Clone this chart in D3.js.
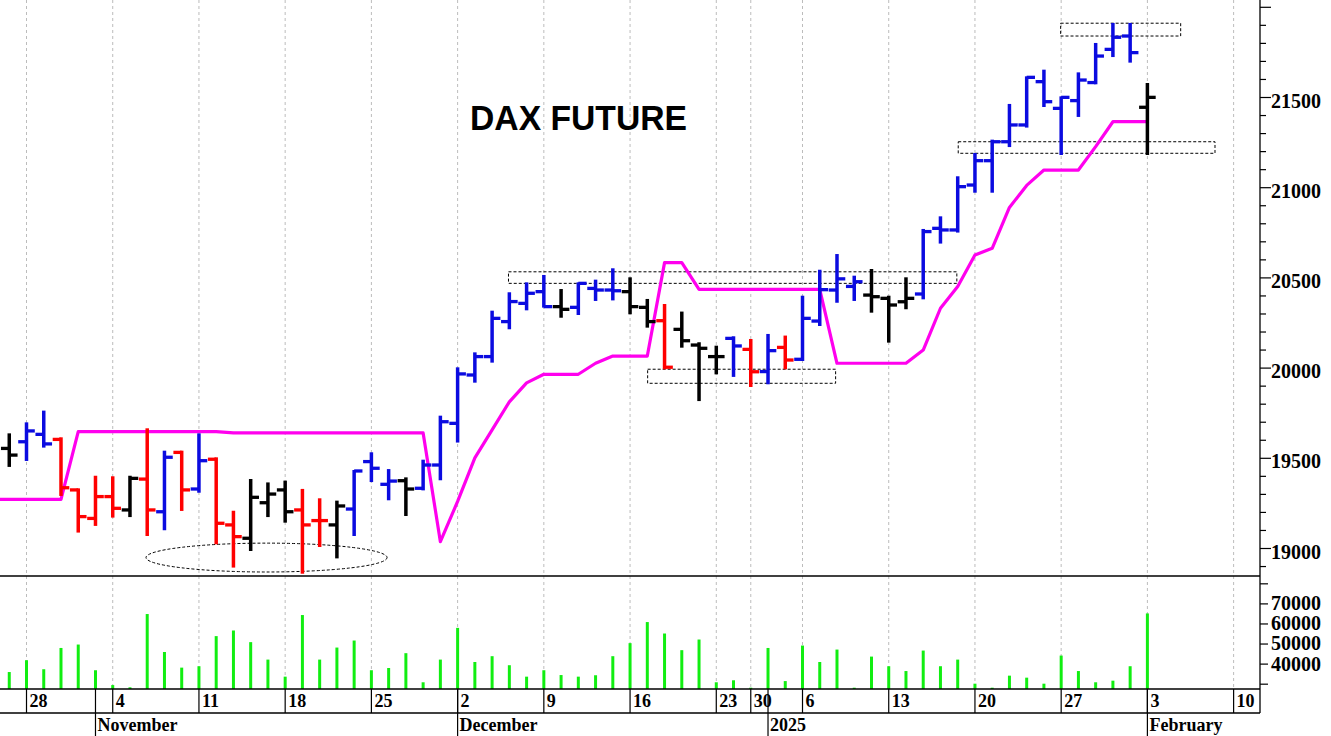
<!DOCTYPE html>
<html><head><meta charset="utf-8">
<script src="https://cdn.jsdelivr.net/npm/d3@7"></script>
<style>html,body{margin:0;padding:0;background:#fff;}svg{display:block;}</style>
</head><body>
<svg id="chart" width="1331" height="736"></svg>
<script>
// ---------------- DATA ----------------
const dates = ["2024-10-25",
 "2024-10-28","2024-10-29","2024-10-30","2024-10-31","2024-11-01",
 "2024-11-04","2024-11-05","2024-11-06","2024-11-07","2024-11-08",
 "2024-11-11","2024-11-12","2024-11-13","2024-11-14","2024-11-15",
 "2024-11-18","2024-11-19","2024-11-20","2024-11-21","2024-11-22",
 "2024-11-25","2024-11-26","2024-11-27","2024-11-28","2024-11-29",
 "2024-12-02","2024-12-03","2024-12-04","2024-12-05","2024-12-06",
 "2024-12-09","2024-12-10","2024-12-11","2024-12-12","2024-12-13",
 "2024-12-16","2024-12-17","2024-12-18","2024-12-19","2024-12-20",
 "2024-12-23","2024-12-27",
 "2024-12-30","2025-01-02","2025-01-03",
 "2025-01-06","2025-01-07","2025-01-08","2025-01-09","2025-01-10",
 "2025-01-13","2025-01-14","2025-01-15","2025-01-16","2025-01-17",
 "2025-01-20","2025-01-21","2025-01-22","2025-01-23","2025-01-24",
 "2025-01-27","2025-01-28","2025-01-29","2025-01-30","2025-01-31",
 "2025-02-03"];

const open = [19552,
 19589,19630,19602,19322,19164, 19285,19211,19382,19201,19530,
 19327,19492,19128,19054,19251, 19322,19211,19152,19128,19216,
 19479,19353,19373,19331,19460, 19691,19959,20061,20255,20356,
 20421,20338,20334,20439,20430, 20421,20334,20260,20212,20125,
 20061,20162, 20101,19978,20112, 20046,20258,20430,20450,20402,
 20384,20365,20408,20772,20763, 21012,21147,21252,21345,21585,
 21437,21480,21580,21764,21838, 21443];
const high = [19630,
 19691,19756,19608,19325,19395, 19392,19395,19658,19534,19534,
 19630,19497,19201,19377,19358, 19368,19322,19270,19257,19427,
 19525,19432,19386,19484,19728, 19996,20079,20310,20412,20467,
 20508,20430,20467,20482,20545, 20495,20375,20347,20305,20135,
 20116,20168, 20153,20181,20172, 20393,20537,20624,20504,20541,
 20393,20495,20763,20833,21055, 21184,21258,21456,21609,21646,
 21498,21631,21794,21905,21905, 21572];
const low = [19455,
 19488,19562,19294,19091,19128, 19174,19177,19072,19104,19211,
 19312,19026,18897,18989,19177, 19146,18863,19011,18948,19072,
 19371,19270,19183,19325,19381, 19590,19922,20033,20218,20323,
 20338,20282,20297,20375,20378, 20301,20227,19996,20116,19820,
 19968,19954, 19898,19913,19996, 20042,20236,20365,20375,20310,
 20144,20329,20384,20693,20754, 20975,20975,21228,21336,21450,
 21184,21395,21576,21727,21696, 21184];
const close = [19515,
 19649,19577,19334,19174,19285, 19220,19386,19211,19503,19322,
 19484,19137,19063,19281,19299, 19201,19128,19152,19233,19427,
 19442,19371,19327,19460,19700, 19965,20061,20273,20366,20412,
 20338,20323,20467,20430,20426, 20338,20255,20002,20149,20107,
 20061,20120, 19977,20094,20042, 20273,20432,20492,20476,20393,
 20347,20384,20754,20763,21003, 21147,21252,21345,21609,21474,
 21498,21594,21727,21831,21746, 21498];
// bar colour class: b = blue, r = red, k = black
const barClass = ["k",
 "b","b","r","r","r", "r","k","r","b","r",
 "b","r","r","k","k", "k","r","r","k","b",
 "b","b","k","b","b", "b","b","b","b","b",
 "b","k","b","b","b", "k","k","r","k","k",
 "k","b", "r","b","r", "b","b","b","b","k",
 "k","k","b","b","b", "b","b","b","b","b",
 "b","b","b","b","b", "k"];
// magenta stop line
const stopLine = [19270,
 19270,19270,19270,19645,19645, 19645,19645,19645,19645,19645,
 19645,19645,19638,19638,19638, 19638,19638,19638,19638,19638,
 19638,19638,19638,19638,19035, 19258,19500,19655,19810,19915,
 19963,19963,19963,20024,20064, 20064,20064,20582,20582,20434,
 20434,20434, 20434,20434,20434, 20434,20434,20024,20024,20024,
 20024,20024,20097,20329,20450, 20624,20661,20888,21010,21095,
 21095,21095,21225,21363,21363, 21363];
const volume = [35800,
 41700,37200,47800,49500,36700, 29300,28200,64700,45800,38000,
 38700,53700,56500,50700,42000, 33500,64200,42000,48000,51500,
 36700,37800,45200,30700,42000, 57800,40800,43700,39200,33500,
 36700,34300,33500,34200,43700, 50200,60700,55000,46700,52000,
 30700,31700, 28000,47800,31300, 49000,40800,47000,28000,43500,
 38700,36300,46500,38700,42000, 30000,28000,34000,33000,30000,
 44000,36300,30700,31500,38700, 65000];

const priceLabels = [19000,19500,20000,20500,21000,21500];
const volumeLabels = [40000,50000,60000,70000];
const monthLabels = ["January","February","March","April","May","June","July","August","September","October","November","December"];
const title = "DAX FUTURE";

// annotation boxes in data units (bar index, price)
const annoRects = [
  {i0:28.95, i1:54.95, p0:20467, p1:20531},
  {i0:37.02, i1:47.92, p0:19913, p1:19991},
  {i0:55.03, i1:69.92, p0:21188, p1:21252},
  {i0:60.97, i1:67.93, p0:21838, p1:21909}
];
const annoEllipse = {ic:14.92, di:6.99, pc:18947, dp:80};

// ---------------- LAYOUT ----------------
const plotR = 1260, priceBot = 576, volBot = 689, dayBot = 713, monthBot = 736;
const colors = {b:"#0b0be0", r:"#ff0000", k:"#000000"};

const svg = d3.select("#chart");
const n = dates.length;
const x = d3.scaleLinear().domain([-0.537, 72.53]).range([0, plotR]);
const yP = d3.scaleLinear().domain([18844.8, 22037.7]).range([priceBot, 0]);
const yV = d3.scaleLinear().domain([27350, 83650]).range([volBot, priceBot]);

// calendar extended beyond the data for the axis
const parse = d3.utcParse("%Y-%m-%d");
const days = dates.map(parse);
{
  let d = days[days.length-1];
  while (days.length < 73) { d = d3.utcDay.offset(d,1); const wd = d.getUTCDay(); if (wd !== 0 && wd !== 6) days.push(d); }
}
const weekTicks = [], monthTicks = [];
for (let i = 1; i < days.length; i++) {
  if (+d3.utcMonday.floor(days[i]) !== +d3.utcMonday.floor(days[i-1])) weekTicks.push(i);
  if (days[i].getUTCMonth() !== days[i-1].getUTCMonth()) monthTicks.push(i);
}

svg.append("defs").append("clipPath").attr("id","clipP")
  .append("rect").attr("x",0).attr("y",0).attr("width",plotR).attr("height",volBot);

// gridlines
svg.append("g").selectAll("line").data(weekTicks.filter(i => x(i) < plotR)).join("line")
  .attr("x1", i => x(i)).attr("x2", i => x(i)).attr("y1", 0).attr("y2", volBot)
  .attr("stroke", "#bcbcbc").attr("stroke-width", 1).attr("stroke-dasharray", "3,3");

// title
svg.append("text").attr("x", 470).attr("y", 129.5).text(title)
  .attr("font-family", "'Liberation Sans', Arial, sans-serif").attr("font-weight", "bold")
  .attr("font-size", 35).attr("textLength", 217).attr("lengthAdjust", "spacingAndGlyphs").attr("fill", "#000");

// annotations
const ann = svg.append("g").attr("fill", "none").attr("stroke", "#000").attr("stroke-width", 1).attr("stroke-dasharray", "3,2");
ann.selectAll("rect").data(annoRects).join("rect")
  .attr("x", d => x(d.i0)).attr("y", d => yP(d.p1))
  .attr("width", d => x(d.i1) - x(d.i0)).attr("height", d => yP(d.p0) - yP(d.p1));
ann.append("ellipse").attr("cx", x(annoEllipse.ic)).attr("cy", yP(annoEllipse.pc))
  .attr("rx", x(annoEllipse.ic + annoEllipse.di) - x(annoEllipse.ic))
  .attr("ry", yP(annoEllipse.pc - annoEllipse.dp) - yP(annoEllipse.pc));

const plot = svg.append("g").attr("clip-path", "url(#clipP)");

// stop line
const lineData = [[x.domain()[0], stopLine[0]]].concat(stopLine.map((v,i) => [i, v]));
plot.append("path").datum(lineData)
  .attr("d", d3.line().x(d => x(d[0])).y(d => yP(d[1])))
  .attr("fill", "none").attr("stroke", "#ff00ee").attr("stroke-width", 3.2).attr("stroke-linejoin", "round");

// OHLC bars
const idx = d3.range(n);
const bars = plot.append("g");
const tw = 8.3;
bars.selectAll("line.hl").data(idx).join("line").attr("class","hl")
  .attr("x1", i => x(i)).attr("x2", i => x(i)).attr("y1", i => yP(high[i]) - 1).attr("y2", i => yP(low[i]) + 1)
  .attr("stroke", i => colors[barClass[i]]).attr("stroke-width", 3.5);
bars.selectAll("line.op").data(idx).join("line").attr("class","op")
  .attr("x1", i => x(i) - tw).attr("x2", i => x(i)).attr("y1", i => yP(open[i])).attr("y2", i => yP(open[i]))
  .attr("stroke", i => colors[barClass[i]]).attr("stroke-width", 3.3);
bars.selectAll("line.cl").data(idx).join("line").attr("class","cl")
  .attr("x1", i => x(i)).attr("x2", i => x(i) + tw).attr("y1", i => yP(close[i])).attr("y2", i => yP(close[i]))
  .attr("stroke", i => colors[barClass[i]]).attr("stroke-width", 3.3);

// volume
plot.append("g").selectAll("line").data(idx).join("line")
  .attr("x1", i => x(i)).attr("x2", i => x(i)).attr("y1", volBot).attr("y2", i => yV(volume[i]))
  .attr("stroke", "#11ee11").attr("stroke-width", 3);

// frame lines
const frame = svg.append("g").attr("stroke", "#000").attr("stroke-width", 1.3);
[priceBot, volBot, dayBot].forEach(yy => frame.append("line").attr("x1",0).attr("x2",plotR).attr("y1",yy).attr("y2",yy));
frame.append("line").attr("x1",plotR).attr("x2",plotR).attr("y1",0).attr("y2",dayBot);

// right axes
const fontSerif = "'Liberation Serif', 'Times New Roman', serif";
function styleAxis(g){
  g.select(".domain").remove();
  g.selectAll(".tick line").attr("stroke","#000").attr("stroke-width",1.2);
  g.selectAll(".tick text").attr("font-family", fontSerif).attr("font-weight","bold").attr("font-size",20).attr("fill","#000");
}
const minorP = d3.range(18900, 22001, 100).filter(v => v % 500 !== 0);
const majorP = d3.range(19000, 22001, 500);
svg.append("g").attr("transform", `translate(${plotR},0)`)
  .call(d3.axisRight(yP).tickValues(minorP).tickSize(6).tickFormat("")).call(styleAxis);
svg.append("g").attr("transform", `translate(${plotR},0)`)
  .call(d3.axisRight(yP).tickValues(majorP).tickSize(11).tickPadding(0)
    .tickFormat(v => priceLabels.includes(v) ? d3.format("d")(v) : "")).call(styleAxis)
  .selectAll(".tick text").attr("dy", "0.5em");
svg.append("g").attr("transform", `translate(${plotR},0)`)
  .call(d3.axisRight(yV).tickValues(d3.range(30000, 80001, 10000)).tickSize(8).tickPadding(3)
    .tickFormat(v => volumeLabels.includes(v) ? d3.format("d")(v) : "")).call(styleAxis);

// date axis
const dax = svg.append("g");
dax.selectAll("line.wk").data(weekTicks.filter(i => x(i) <= plotR)).join("line").attr("class","wk")
  .attr("x1", i => x(i)).attr("x2", i => x(i)).attr("y1", volBot).attr("y2", dayBot).attr("stroke","#000").attr("stroke-width",1.2);
dax.selectAll("text.wk").data(weekTicks.filter(i => x(i) < plotR - 10)).join("text").attr("class","wk")
  .attr("x", i => x(i) + 3).attr("y", 707).text(i => days[i].getUTCDate())
  .attr("font-family", fontSerif).attr("font-weight","bold").attr("font-size",18);
dax.selectAll("line.mo").data(monthTicks.filter(i => x(i) <= plotR)).join("line").attr("class","mo")
  .attr("x1", i => x(i)).attr("x2", i => x(i)).attr("y1", volBot).attr("y2", monthBot).attr("stroke","#000").attr("stroke-width",1.2);
dax.selectAll("text.mo").data(monthTicks.filter(i => x(i) < plotR - 10)).join("text").attr("class","mo")
  .attr("x", i => x(i) + 2).attr("y", 731)
  .text(i => days[i].getUTCMonth() === 0 ? String(days[i].getUTCFullYear()) : monthLabels[days[i].getUTCMonth()])
  .attr("font-family", fontSerif).attr("font-weight","bold").attr("font-size",18);
</script>
</body></html>
